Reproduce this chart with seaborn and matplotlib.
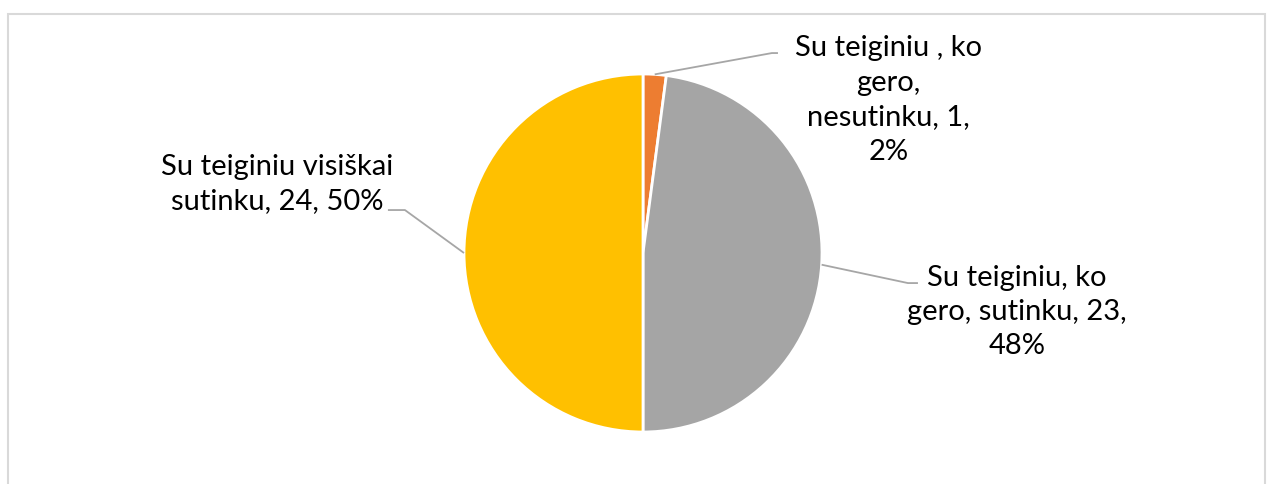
import matplotlib
matplotlib.use("Agg")
import matplotlib.pyplot as plt
import numpy as np
import seaborn as sns
from matplotlib.patches import Rectangle

labels = ["Su teiginiu , ko\ngero,\nnesutinku, 1,\n2%",
          "Su teiginiu, ko\ngero, sutinku, 23,\n48%",
          "Su teiginiu visiškai\nsutinku, 24, 50%"]
values = [1, 23, 24]
colors = ["#ED7D31", "#A5A5A5", "#FFC000"]

sns.set_style("white")
plt.rcParams['font.family'] = ['Lato', 'DejaVu Sans']

W, H = 1272, 484
cx, cy, r = 643, 253, 179

fig = plt.figure(figsize=(W / 100, H / 100), dpi=100)
ax = fig.add_axes([0, 0, 1, 1])
wedges, _ = ax.pie(values, colors=colors, startangle=90, counterclock=False,
                   wedgeprops=dict(edgecolor="white", linewidth=2))
ax.set_aspect("auto")
ax.set_xlim(-cx / r, (W - cx) / r)
ax.set_ylim((cy - H) / r, cy / r)
ax.axis("off")

# label placement: (text center, elbow, end of horizontal stub)
layout = [
    ((1.37, 0.855), (0.72, 1.117), (0.754, 1.117)),
    ((2.09, -0.33), (1.48, -0.168), (1.536, -0.168)),
    ((-2.045, 0.385), (-1.33, 0.24), (-1.425, 0.24)),
]
for w, lab, (tpos, elbow, stub) in zip(wedges, labels, layout):
    ang = np.deg2rad((w.theta1 + w.theta2) / 2)
    px, py = np.cos(ang), np.sin(ang)
    ax.plot([px, elbow[0], stub[0]], [py, elbow[1], stub[1]],
            color="#A6A6A6", lw=1.3, solid_capstyle="butt")
    ax.text(tpos[0], tpos[1], lab, ha="center", va="center", fontsize=21,
            linespacing=1.40, color="black")

fig.patches.append(Rectangle((8 / W, -0.05), (1265 - 8) / W, 1 - 14 / H + 0.05,
                             transform=fig.transFigure, fill=False,
                             edgecolor="#D9D9D9", lw=1.5))

fig.savefig("out.png", dpi=100)
